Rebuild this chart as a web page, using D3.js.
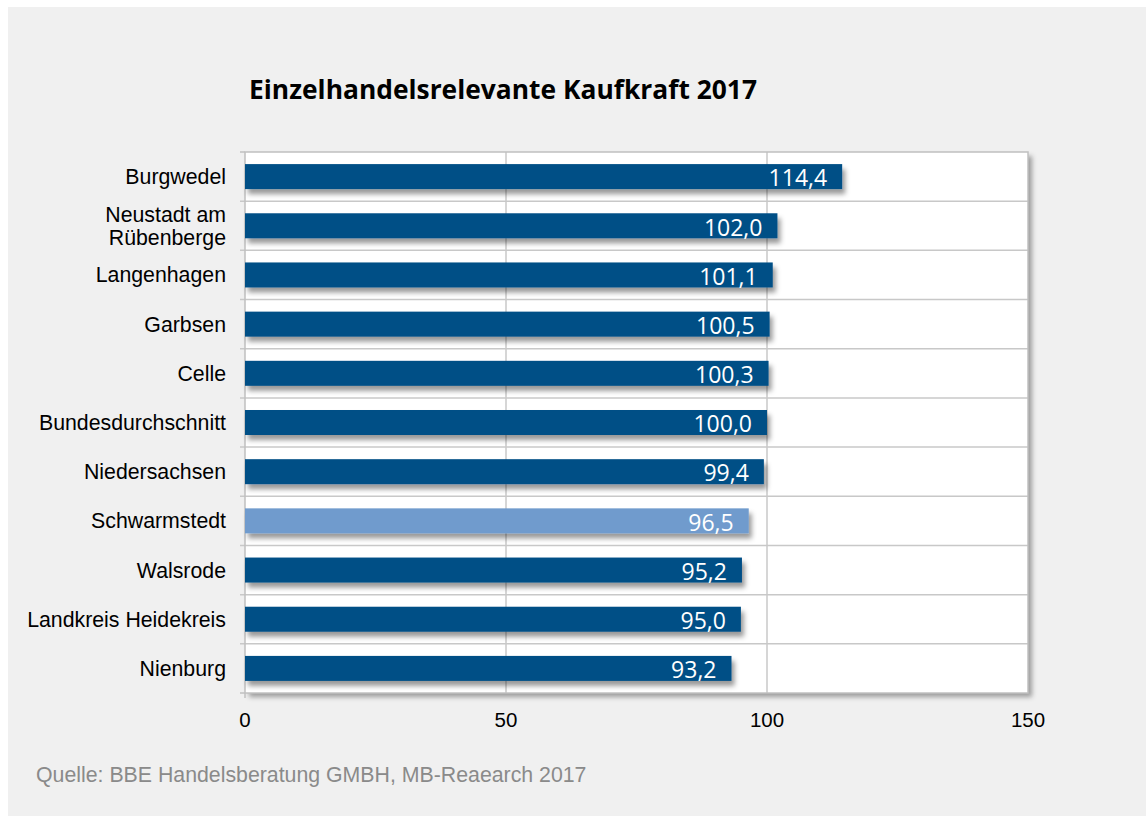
<!DOCTYPE html>
<html>
<head>
<meta charset="utf-8">
<script src="https://cdn.jsdelivr.net/npm/d3@7"></script>
<style>
  body { margin: 0; background: #fff; }
  svg { display: block; }
</style>
</head>
<body>
<svg></svg>
<script>
// daten
var regionen = ["Burgwedel", "Neustadt am\nRübenberge", "Langenhagen", "Garbsen", "Celle",
  "Bundesdurchschnitt", "Niedersachsen", "Schwarmstedt", "Walsrode", "Landkreis Heidekreis", "Nienburg"];
var kaufkraft = [114.4, 102.0, 101.1, 100.5, 100.3, 100.0, 99.4, 96.5, 95.2, 95.0, 93.2];
var hervorgehoben = ["Schwarmstedt"];
var xTicks = [0, 50, 100, 150];
var titel = "Einzelhandelsrelevante Kaufkraft 2017";
var quelle = "Quelle: BBE Handelsberatung GMBH, MB-Reaearch 2017";

var width = 1146, height = 816;
var plot = { left: 245, right: 1028, top: 152, bottom: 693 };

var svg = d3.select("svg").attr("width", width).attr("height", height);

var defs = svg.append("defs");
var f1 = defs.append("filter").attr("id", "schatten").attr("x", "-5%").attr("y", "-5%").attr("width", "115%").attr("height", "115%");
f1.append("feDropShadow").attr("dx", 4).attr("dy", 4).attr("stdDeviation", 2.5)
  .attr("flood-color", "#000").attr("flood-opacity", 0.35);
var f2 = defs.append("filter").attr("id", "balkenschatten").attr("x", "-5%").attr("y", "-20%").attr("width", "115%").attr("height", "180%");
f2.append("feDropShadow").attr("dx", 3).attr("dy", 5).attr("stdDeviation", 2.5)
  .attr("flood-color", "#000").attr("flood-opacity", 0.4);

// hintergrund
svg.append("rect").attr("x", 8).attr("y", 7).attr("width", width - 8).attr("height", height - 7).attr("fill", "#f0f0f0");

var x = d3.scaleLinear().domain([0, 150]).range([plot.left, plot.right]);
var y = d3.scaleBand().domain(regionen).range([plot.top, plot.bottom]).paddingInner(0).paddingOuter(0);

// plotfläche
svg.append("rect")
  .attr("x", plot.left).attr("y", plot.top)
  .attr("width", plot.right - plot.left).attr("height", plot.bottom - plot.top)
  .attr("fill", "#fff").attr("filter", "url(#schatten)");

// gitter
svg.append("g").selectAll("line").data(xTicks.slice(1, -1)).enter().append("line")
  .attr("x1", function(d) { return x(d); }).attr("x2", function(d) { return x(d); })
  .attr("y1", plot.top).attr("y2", plot.bottom)
  .attr("stroke", "#c8c8c8").attr("stroke-width", 1.5);

svg.append("g").selectAll("line").data(regionen.slice(1)).enter().append("line")
  .attr("x1", plot.left - 5).attr("x2", plot.right)
  .attr("y1", function(d) { return y(d); }).attr("y2", function(d) { return y(d); })
  .attr("stroke", "#c8c8c8").attr("stroke-width", 1.5);

// rahmen
svg.append("rect")
  .attr("x", plot.left).attr("y", plot.top)
  .attr("width", plot.right - plot.left).attr("height", plot.bottom - plot.top)
  .attr("fill", "none").attr("stroke", "#c0c0c0").attr("stroke-width", 1.5);

// y-achse ticks
svg.append("g").selectAll("line").data([plot.top, plot.bottom]).enter().append("line")
  .attr("x1", plot.left - 5).attr("x2", plot.left)
  .attr("y1", function(d) { return d; }).attr("y2", function(d) { return d; })
  .attr("stroke", "#c0c0c0").attr("stroke-width", 1.5);
svg.append("line").attr("x1", plot.left).attr("x2", plot.left)
  .attr("y1", plot.bottom).attr("y2", plot.bottom + 5)
  .attr("stroke", "#c0c0c0").attr("stroke-width", 1.5);

// balken
var bh = 25;
var balken = svg.append("g").selectAll("g").data(regionen).enter().append("g");
balken.append("rect")
  .attr("x", x(0))
  .attr("y", function(d) { return y(d) + y.bandwidth() / 2 - bh / 2; })
  .attr("width", function(d, i) { return x(kaufkraft[i]) - x(0); })
  .attr("height", bh)
  .attr("fill", function(d) { return hervorgehoben.indexOf(d) >= 0 ? "#6f9bcd" : "#004f86"; })
  .attr("filter", "url(#balkenschatten)");

balken.append("text")
  .attr("x", function(d, i) { return x(kaufkraft[i]) - 15; })
  .attr("y", function(d) { return y(d) + y.bandwidth() / 2 + 1.5; })
  .attr("dy", "0.36em")
  .attr("text-anchor", "end")
  .attr("fill", "#fff")
  .style("font-family", "'Open Sans', sans-serif")
  .style("font-size", "23px")
  .text(function(d, i) { return kaufkraft[i].toFixed(1).replace(".", ","); });

// kategorien
var kat = svg.append("g").selectAll("text").data(regionen).enter().append("text")
  .attr("x", 226)
  .attr("y", function(d) { return y(d) + y.bandwidth() / 2; })
  .attr("text-anchor", "end")
  .attr("fill", "#000")
  .style("font-family", "'Liberation Sans', Arial, sans-serif")
  .style("font-size", "21.3px");
kat.each(function(d) {
  var zeilen = d.split("\n");
  var t = d3.select(this);
  zeilen.forEach(function(z, j) {
    t.append("tspan").attr("x", 226)
      .attr("dy", j === 0 ? (0.35 - (zeilen.length - 1) * 0.55) + "em" : "1.1em")
      .text(z);
  });
});

// x-achse beschriftung
svg.append("g").selectAll("text").data(xTicks).enter().append("text")
  .attr("x", function(d) { return x(d); })
  .attr("y", 727)
  .attr("text-anchor", "middle")
  .style("font-family", "'Liberation Sans', Arial, sans-serif")
  .style("font-size", "20.5px")
  .text(function(d) { return d; });

// titel
svg.append("text")
  .attr("x", 503).attr("y", 99)
  .attr("text-anchor", "middle")
  .style("font-family", "'Open Sans', sans-serif")
  .style("font-weight", "bold")
  .style("font-size", "27px")
  .attr("textLength", 508)
  .attr("lengthAdjust", "spacingAndGlyphs")
  .text(titel);

// quelle
svg.append("text")
  .attr("x", 36).attr("y", 782)
  .attr("fill", "#8a8a8a")
  .style("font-family", "'Liberation Sans', Arial, sans-serif")
  .style("font-size", "21.3px")
  .text(quelle);
</script>
</body>
</html>
